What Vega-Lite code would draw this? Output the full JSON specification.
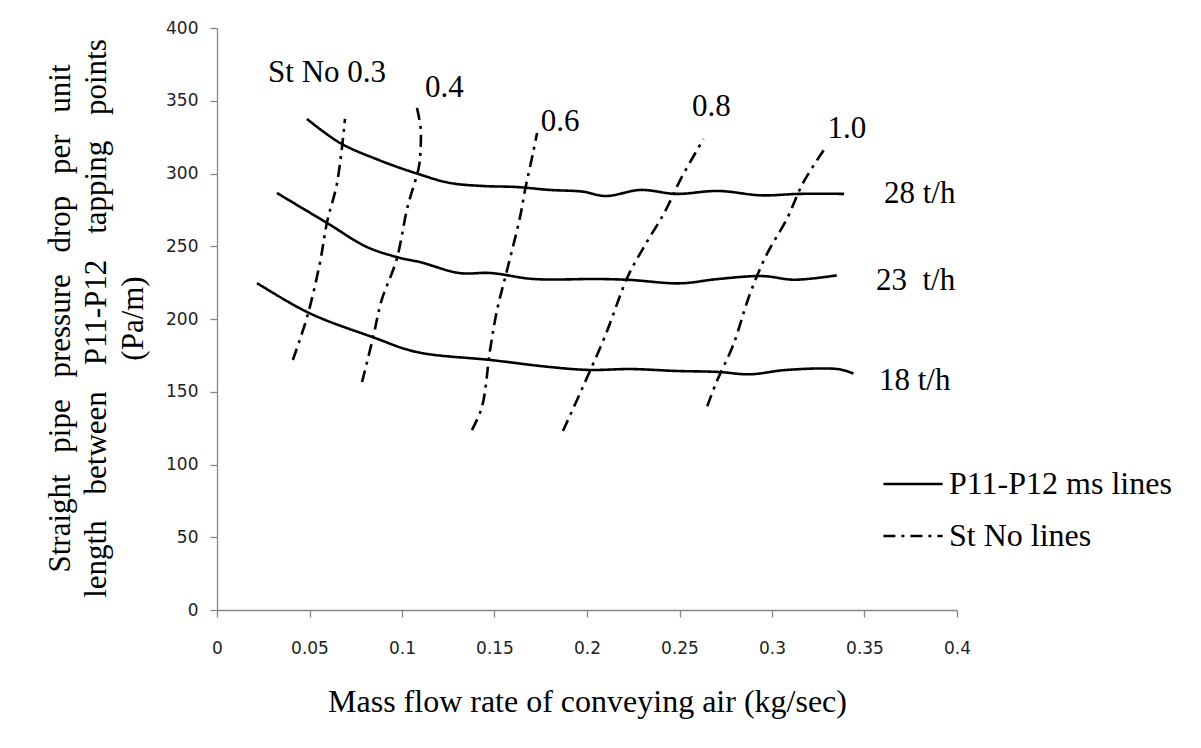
{
  "$schema": "https://vega.github.io/schema/vega-lite/v6.json",
  "width": 740,
  "height": 582,
  "autosize": {"type": "none"},
  "padding": {"left": 217, "top": 28, "right": 244, "bottom": 138},
  "background": "white",
  "config": {
    "view": {"stroke": null},
    "axis": {"grid": false, "domainColor": "#868686", "tickColor": "#868686", "domainWidth": 1.3, "tickWidth": 1.3, "tickSize": 7, "labelFont": "DejaVu Sans", "labelFontSize": 17, "labelColor": "#222", "titleFont": "Liberation Serif", "titleColor": "black", "titleFontWeight": "normal"}
  },
  "layer": [
    {
      "data": {"values": [
        {"series": "28", "type": "P11-P12 ms lines", "i": 1, "x": 0.0486, "y": 337.5},
        {"series": "28", "type": "P11-P12 ms lines", "i": 2, "x": 0.0665, "y": 321},
        {"series": "28", "type": "P11-P12 ms lines", "i": 3, "x": 0.088, "y": 309},
        {"series": "28", "type": "P11-P12 ms lines", "i": 4, "x": 0.108, "y": 300},
        {"series": "28", "type": "P11-P12 ms lines", "i": 5, "x": 0.126, "y": 293.5},
        {"series": "28", "type": "P11-P12 ms lines", "i": 6, "x": 0.144, "y": 291.4},
        {"series": "28", "type": "P11-P12 ms lines", "i": 7, "x": 0.162, "y": 290.7},
        {"series": "28", "type": "P11-P12 ms lines", "i": 8, "x": 0.18, "y": 288.7},
        {"series": "28", "type": "P11-P12 ms lines", "i": 9, "x": 0.198, "y": 287.5},
        {"series": "28", "type": "P11-P12 ms lines", "i": 10, "x": 0.21, "y": 284.5},
        {"series": "28", "type": "P11-P12 ms lines", "i": 11, "x": 0.229, "y": 288.7},
        {"series": "28", "type": "P11-P12 ms lines", "i": 12, "x": 0.248, "y": 286},
        {"series": "28", "type": "P11-P12 ms lines", "i": 13, "x": 0.271, "y": 288},
        {"series": "28", "type": "P11-P12 ms lines", "i": 14, "x": 0.294, "y": 285},
        {"series": "28", "type": "P11-P12 ms lines", "i": 15, "x": 0.315, "y": 286},
        {"series": "28", "type": "P11-P12 ms lines", "i": 16, "x": 0.339, "y": 286},
        {"series": "23", "type": "P11-P12 ms lines", "i": 1, "x": 0.0324, "y": 286.6},
        {"series": "23", "type": "P11-P12 ms lines", "i": 2, "x": 0.0595, "y": 266},
        {"series": "23", "type": "P11-P12 ms lines", "i": 3, "x": 0.081, "y": 249.5},
        {"series": "23", "type": "P11-P12 ms lines", "i": 4, "x": 0.099, "y": 242},
        {"series": "23", "type": "P11-P12 ms lines", "i": 5, "x": 0.11, "y": 239},
        {"series": "23", "type": "P11-P12 ms lines", "i": 6, "x": 0.131, "y": 231.6},
        {"series": "23", "type": "P11-P12 ms lines", "i": 7, "x": 0.148, "y": 231.6},
        {"series": "23", "type": "P11-P12 ms lines", "i": 8, "x": 0.171, "y": 227.5},
        {"series": "23", "type": "P11-P12 ms lines", "i": 9, "x": 0.207, "y": 227.5},
        {"series": "23", "type": "P11-P12 ms lines", "i": 10, "x": 0.224, "y": 226.8},
        {"series": "23", "type": "P11-P12 ms lines", "i": 11, "x": 0.25, "y": 224.5},
        {"series": "23", "type": "P11-P12 ms lines", "i": 12, "x": 0.271, "y": 227.5},
        {"series": "23", "type": "P11-P12 ms lines", "i": 13, "x": 0.295, "y": 229.5},
        {"series": "23", "type": "P11-P12 ms lines", "i": 14, "x": 0.312, "y": 227},
        {"series": "23", "type": "P11-P12 ms lines", "i": 15, "x": 0.335, "y": 230},
        {"series": "18", "type": "P11-P12 ms lines", "i": 1, "x": 0.0216, "y": 224.7},
        {"series": "18", "type": "P11-P12 ms lines", "i": 2, "x": 0.05, "y": 204},
        {"series": "18", "type": "P11-P12 ms lines", "i": 3, "x": 0.084, "y": 187.6},
        {"series": "18", "type": "P11-P12 ms lines", "i": 4, "x": 0.108, "y": 177.3},
        {"series": "18", "type": "P11-P12 ms lines", "i": 5, "x": 0.148, "y": 171.8},
        {"series": "18", "type": "P11-P12 ms lines", "i": 6, "x": 0.18, "y": 167},
        {"series": "18", "type": "P11-P12 ms lines", "i": 7, "x": 0.201, "y": 165},
        {"series": "18", "type": "P11-P12 ms lines", "i": 8, "x": 0.224, "y": 165.6},
        {"series": "18", "type": "P11-P12 ms lines", "i": 9, "x": 0.248, "y": 164.3},
        {"series": "18", "type": "P11-P12 ms lines", "i": 10, "x": 0.271, "y": 163.6},
        {"series": "18", "type": "P11-P12 ms lines", "i": 11, "x": 0.288, "y": 162},
        {"series": "18", "type": "P11-P12 ms lines", "i": 12, "x": 0.308, "y": 165},
        {"series": "18", "type": "P11-P12 ms lines", "i": 13, "x": 0.336, "y": 165.5},
        {"series": "18", "type": "P11-P12 ms lines", "i": 14, "x": 0.344, "y": 162.5},
        {"series": "s0.3", "type": "St No lines", "i": 1, "x": 0.041, "y": 171.8},
        {"series": "s0.3", "type": "St No lines", "i": 2, "x": 0.049, "y": 202.7},
        {"series": "s0.3", "type": "St No lines", "i": 3, "x": 0.0557, "y": 239},
        {"series": "s0.3", "type": "St No lines", "i": 4, "x": 0.0595, "y": 266.7},
        {"series": "s0.3", "type": "St No lines", "i": 5, "x": 0.0649, "y": 293.5},
        {"series": "s0.3", "type": "St No lines", "i": 6, "x": 0.0692, "y": 337.5},
        {"series": "s0.4", "type": "St No lines", "i": 1, "x": 0.0784, "y": 156.7},
        {"series": "s0.4", "type": "St No lines", "i": 2, "x": 0.0843, "y": 187},
        {"series": "s0.4", "type": "St No lines", "i": 3, "x": 0.089, "y": 213},
        {"series": "s0.4", "type": "St No lines", "i": 4, "x": 0.097, "y": 240.5},
        {"series": "s0.4", "type": "St No lines", "i": 5, "x": 0.103, "y": 277},
        {"series": "s0.4", "type": "St No lines", "i": 6, "x": 0.109, "y": 303.8},
        {"series": "s0.4", "type": "St No lines", "i": 7, "x": 0.11, "y": 316},
        {"series": "s0.4", "type": "St No lines", "i": 8, "x": 0.11, "y": 332},
        {"series": "s0.4", "type": "St No lines", "i": 9, "x": 0.1076, "y": 347.8},
        {"series": "s0.6", "type": "St No lines", "i": 1, "x": 0.1378, "y": 123.7},
        {"series": "s0.6", "type": "St No lines", "i": 2, "x": 0.1432, "y": 139.5},
        {"series": "s0.6", "type": "St No lines", "i": 3, "x": 0.1476, "y": 178.7},
        {"series": "s0.6", "type": "St No lines", "i": 4, "x": 0.1514, "y": 206.2},
        {"series": "s0.6", "type": "St No lines", "i": 5, "x": 0.1568, "y": 233.7},
        {"series": "s0.6", "type": "St No lines", "i": 6, "x": 0.1638, "y": 270},
        {"series": "s0.6", "type": "St No lines", "i": 7, "x": 0.1665, "y": 288.7},
        {"series": "s0.6", "type": "St No lines", "i": 8, "x": 0.1708, "y": 314},
        {"series": "s0.6", "type": "St No lines", "i": 9, "x": 0.173, "y": 327.8},
        {"series": "s0.8", "type": "St No lines", "i": 1, "x": 0.187, "y": 123},
        {"series": "s0.8", "type": "St No lines", "i": 2, "x": 0.198, "y": 154},
        {"series": "s0.8", "type": "St No lines", "i": 3, "x": 0.21, "y": 189},
        {"series": "s0.8", "type": "St No lines", "i": 4, "x": 0.222, "y": 229},
        {"series": "s0.8", "type": "St No lines", "i": 5, "x": 0.231, "y": 250},
        {"series": "s0.8", "type": "St No lines", "i": 6, "x": 0.242, "y": 273.5},
        {"series": "s0.8", "type": "St No lines", "i": 7, "x": 0.251, "y": 297},
        {"series": "s0.8", "type": "St No lines", "i": 8, "x": 0.263, "y": 323.7},
        {"series": "s1.0", "type": "St No lines", "i": 1, "x": 0.265, "y": 140},
        {"series": "s1.0", "type": "St No lines", "i": 2, "x": 0.27, "y": 156.7},
        {"series": "s1.0", "type": "St No lines", "i": 3, "x": 0.279, "y": 182},
        {"series": "s1.0", "type": "St No lines", "i": 4, "x": 0.288, "y": 217},
        {"series": "s1.0", "type": "St No lines", "i": 5, "x": 0.297, "y": 244},
        {"series": "s1.0", "type": "St No lines", "i": 6, "x": 0.308, "y": 268.7},
        {"series": "s1.0", "type": "St No lines", "i": 7, "x": 0.317, "y": 294},
        {"series": "s1.0", "type": "St No lines", "i": 8, "x": 0.329, "y": 318}
      ]},
      "mark": {"type": "line", "color": "black", "strokeWidth": 2.6, "interpolate": "catmull-rom"},
      "encoding": {
        "x": {"field": "x", "type": "quantitative", "scale": {"domain": [0, 0.4], "nice": false, "zero": true},
          "axis": {"values": [0, 0.05, 0.1, 0.15, 0.2, 0.25, 0.3, 0.35, 0.4], "labelExpr": "format(datum.value, '')", "labelPadding": 23, "labelFlush": false,
            "title": "Mass flow rate of conveying air (kg/sec)", "titleFontSize": 32, "titleBaseline": "middle", "titleY": 91}},
        "y": {"field": "y", "type": "quantitative", "scale": {"domain": [0, 400], "nice": false},
          "axis": {"values": [0, 50, 100, 150, 200, 250, 300, 350, 400], "labelPadding": 12,
            "title": ["Straight\u00a0\u00a0\u2009pipe\u00a0\u00a0\u2009pressure\u00a0\u00a0\u2009drop\u00a0\u00a0\u2009per\u00a0\u00a0\u2009unit", "length\u00a0\u00a0\u00a0\u200abetween\u00a0\u00a0\u00a0\u200aP11-P12\u00a0\u00a0\u00a0\u200atapping\u00a0\u00a0\u00a0\u200apoints", "(Pa/m)"],
            "titleFontSize": 31, "titleLineHeight": 36.5, "titleAngle": -90, "titleAlign": "center", "titleBaseline": "middle", "titleX": -157, "titleY": 290}},
        "detail": {"field": "series"},
        "order": {"field": "i", "type": "quantitative"},
        "strokeDash": {"field": "type", "type": "nominal",
          "scale": {"domain": ["P11-P12 ms lines", "St No lines"], "range": [[1, 0], [12, 6, 3, 6]]},
          "legend": {"title": null, "orient": "none", "legendX": 665, "legendY": 425, "symbolType": "stroke", "symbolSize": 3500, "symbolStrokeWidth": 2.6, "symbolStrokeColor": "black", "labelFont": "Liberation Serif", "labelFontSize": 32, "labelColor": "black", "labelLimit": 0, "rowPadding": 5, "labelOffset": 5}}
      }
    },
    {
      "data": {"values": [
        {"label": "St No 0.3", "x": 0.0276, "y": 369},
        {"label": "0.4", "x": 0.1124, "y": 358.8},
        {"label": "0.6", "x": 0.175, "y": 335.4},
        {"label": "0.8", "x": 0.2568, "y": 345.7},
        {"label": "1.0", "x": 0.330, "y": 330.6},
        {"label": "28 t/h", "x": 0.3605, "y": 285.9},
        {"label": "23\u00a0\u00a0t/h", "x": 0.3562, "y": 226},
        {"label": "18 t/h", "x": 0.3578, "y": 157.4}
      ]},
      "mark": {"type": "text", "align": "left", "baseline": "middle", "font": "Liberation Serif", "fontSize": 31, "color": "black"},
      "encoding": {
        "x": {"field": "x", "type": "quantitative"},
        "y": {"field": "y", "type": "quantitative"},
        "text": {"field": "label"}
      }
    }
  ]
}
